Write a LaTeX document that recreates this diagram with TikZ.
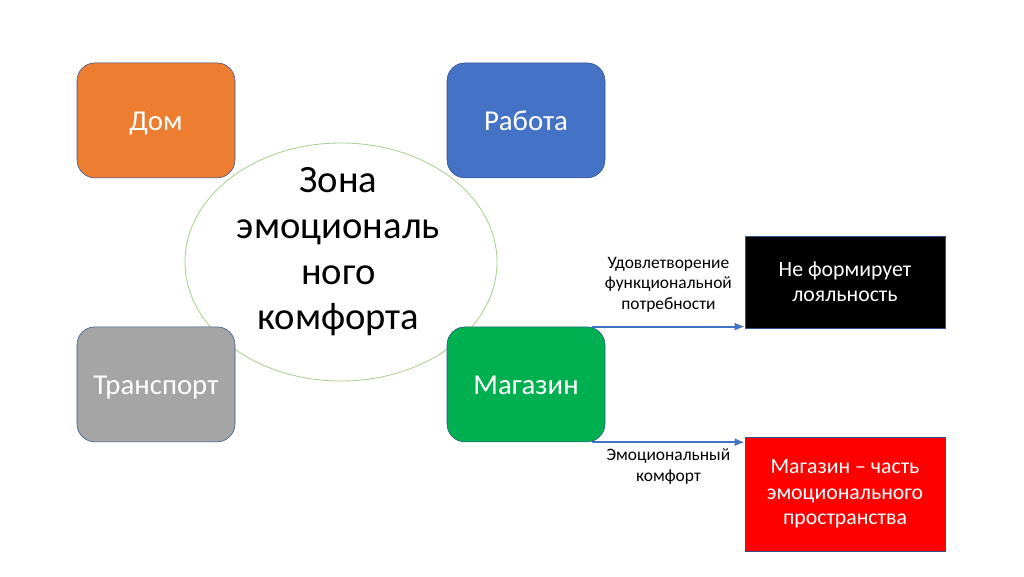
\documentclass[tikz,border=0pt]{standalone}
\usepackage{fontspec}
\setmainfont{Carlito}
\usetikzlibrary{arrows.meta,shapes.geometric}

\definecolor{domorange}{HTML}{ED7D31}
\definecolor{workblue}{HTML}{4472C4}
\definecolor{transgray}{HTML}{A5A5A5}
\definecolor{shopgreen}{HTML}{00B050}
\definecolor{edgeblue}{HTML}{2F528F}
\definecolor{zonegreen}{HTML}{A9CF8E}
\definecolor{shopred}{HTML}{FF0000}

\begin{document}
\begin{tikzpicture}[>=Latex,scale=1]

% ----------------------------
% Styles
% ----------------------------
\tikzset{
	place/.style={rounded corners=0.45cm,minimum width=3.95cm,minimum height=2.875cm,
		draw=edgeblue,line width=0.4pt,text=white,font=\fontsize{20.5}{24}\selectfont,
		text height=17pt,text depth=3pt},
	zone/.style={ellipse,draw=zonegreen,line width=0.6pt,minimum width=7.8cm,
		minimum height=5.95cm,inner sep=0pt},
	zonetxt/.style={align=center,font=\fontsize{27.5}{32.5}\selectfont},
	result/.style={minimum width=5cm,draw=edgeblue,line width=0.4pt,text=white,
		align=center,font=\fontsize{15.5}{18}\selectfont},
	flow/.style={->,draw=workblue,line width=1.3pt,
		-{Latex[length=0.25cm,width=0.2cm]}},
	flowlbl/.style={align=center,font=\fontsize{12.4}{14.5}\selectfont}
}

\useasboundingbox (0,0) rectangle (25.6,14.4);

% ============================================================
% Zone of emotional comfort
% ============================================================
\node[zone] (zone) at (8.525,7.85) {};
\node[zonetxt] (zonetext) at (8.46,8.1) {Зона\\эмоциональ\\ного\\комфорта};

% ============================================================
% Places around the zone
% ============================================================
\node[place,fill=domorange]  (home)  at (3.9,11.39)  {Дом};
\node[place,fill=workblue]   (work)  at (13.15,11.39) {Работа};
\node[place,fill=transgray]  (trans) at (3.9,4.79)   {Транспорт};
\node[place,fill=shopgreen]  (shop)  at (13.15,4.79) {Магазин};

% ============================================================
% Results of the shop
% ============================================================
\node[result,fill=black,minimum height=2.3cm]   (noloyal) at (21.125,7.35)
	{Не формирует\\лояльность};
\node[result,fill=shopred,minimum height=2.85cm] (emospace) at (21.125,2.05)
	{Магазин – часть\\эмоционального\\пространства};

% Anchors for the arrows
\coordinate (upstart)  at ([xshift=-0.33cm]shop.north east);
\coordinate (lowstart) at ([xshift=-0.33cm]shop.south east);

\draw[flow] (upstart) -- (upstart -| noloyal.west)
	node[midway,above=0.23cm,flowlbl] (funclbl)
	{Удовлетворение\\функциональной\\потребности};
\draw[flow] (lowstart) -- (lowstart -| emospace.west)
	node[midway,below=0.03cm,flowlbl] (emolbl)
	{Эмоциональный\\комфорт};

\end{tikzpicture}
\end{document}
